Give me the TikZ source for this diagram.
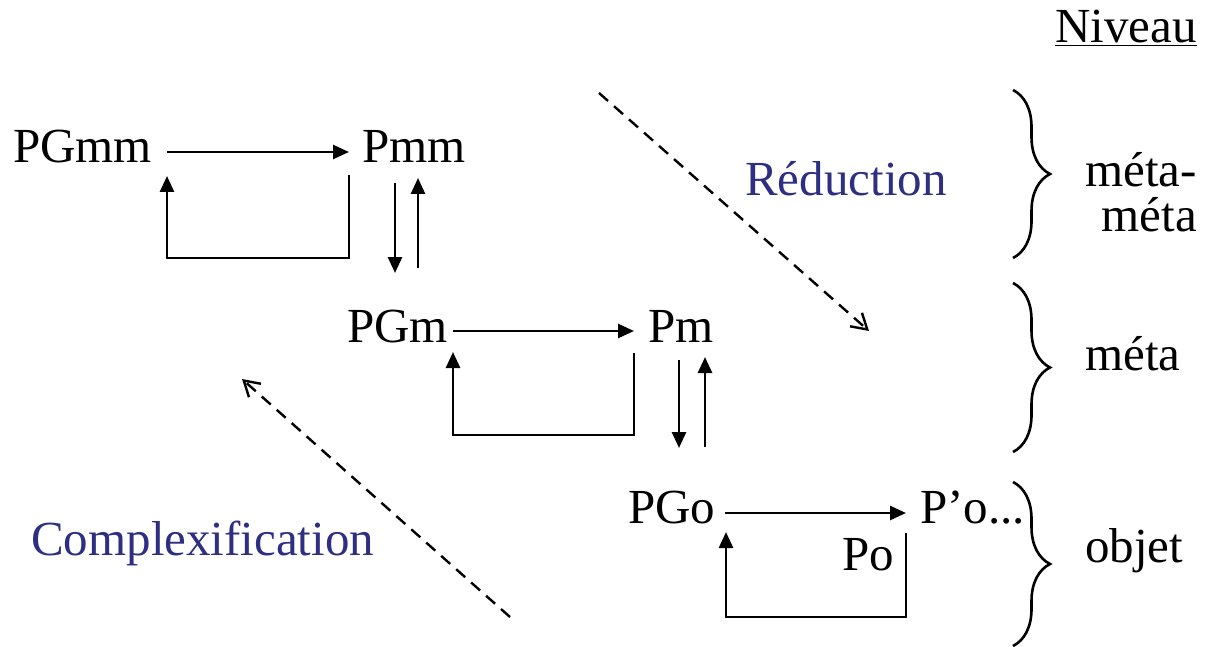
\documentclass[tikz,border=0pt]{standalone}
\usepackage{fontspec}
\setmainfont{Liberation Serif}
\usetikzlibrary{arrows.meta,decorations.pathreplacing}
\definecolor{darkblue}{RGB}{46,46,130}
\begin{document}
\begin{tikzpicture}[x=1pt,y=-1pt,
  lbl/.style={inner sep=0pt, anchor=base west, font=\fontsize{49}{45}\selectfont},
  blu/.style={lbl, text=darkblue},
  arr/.style={line width=2.6pt, -{Triangle[length=16pt,width=14pt]}},
  dasharr/.style={line width=2.4pt, dash pattern=on 12pt off 8pt, -{Straight Barb[length=15pt,width=18pt]}},
  brc/.style={line width=2.6pt, decorate, decoration={brace, amplitude=37pt}}]
\useasboundingbox (0,0) rectangle (1210,647);
\fill[white] (0,0) rectangle (1210,647);
% texts
\node[lbl] (PGmm) at (13,163) {PGmm};
\node[lbl] (Pmm) at (362,163) {Pmm};
\node[lbl] (PGm) at (347,342) {PGm};
\node[lbl] (Pm) at (648,342) {Pm};
\node[lbl] (PGo) at (628,523) {PGo};
\node[lbl] (Pop) at (920,523) {P’o...};
\node[lbl] (Po) at (842,570) {Po};
\node[blu] (red) at (745,196) {Réduction};
\node[blu] (cplx) at (31,555) {Complexification};
\node[lbl, anchor=base east] (niv) at (1197,43) {\underline{Niveau}};
\node[lbl, anchor=base east, align=right] (mm) at (1197,232) {méta-\\méta};
\node[lbl] (meta) at (1085,370) {méta};
\node[lbl] (obj) at (1085,562) {objet};
% level 1
\coordinate (h1s) at (167,152); \coordinate (h1e) at (349,152);
\coordinate (l1a) at (349,175); \coordinate (l1b) at (349,258);
\coordinate (l1c) at (167,258); \coordinate (l1d) at (167,176);
\draw[arr] (h1s) -- (h1e);
\draw[arr] (l1a) -- (l1b) -- (l1c) -- (l1d);
\coordinate (d1s) at (395,183); \coordinate (d1e) at (395,273);
\coordinate (u1s) at (418,268); \coordinate (u1e) at (418,178);
\draw[arr] (d1s) -- (d1e);
\draw[arr] (u1s) -- (u1e);
% level 2
\coordinate (h2s) at (453,331); \coordinate (h2e) at (634,331);
\coordinate (l2a) at (634,353); \coordinate (l2b) at (634,435);
\coordinate (l2c) at (453,435); \coordinate (l2d) at (453,352);
\draw[arr] (h2s) -- (h2e);
\draw[arr] (l2a) -- (l2b) -- (l2c) -- (l2d);
\coordinate (d2s) at (679,360); \coordinate (d2e) at (679,448);
\coordinate (u2s) at (705,447); \coordinate (u2e) at (705,357);
\draw[arr] (d2s) -- (d2e);
\draw[arr] (u2s) -- (u2e);
% level 3
\coordinate (h3s) at (725,513); \coordinate (h3e) at (906,513);
\coordinate (l3a) at (906,533); \coordinate (l3b) at (906,617);
\coordinate (l3c) at (726,617); \coordinate (l3d) at (726,532);
\draw[arr] (h3s) -- (h3e);
\draw[arr] (l3a) -- (l3b) -- (l3c) -- (l3d);
% dashed arrows
\coordinate (rs) at (599,93); \coordinate (re) at (869,331);
\coordinate (cs) at (510,617); \coordinate (ce) at (242,379);
\draw[dasharr] (rs) -- (re);
\draw[dasharr] (cs) -- (ce);
% braces
\coordinate (b1t) at (1013,90); \coordinate (b1b) at (1013,258);
\coordinate (b2t) at (1013,283); \coordinate (b2b) at (1013,452);
\coordinate (b3t) at (1013,482); \coordinate (b3b) at (1013,646);
\draw[brc] (b1t) -- (b1b);
\draw[brc] (b2t) -- (b2b);
\draw[brc] (b3t) -- (b3b);
\end{tikzpicture}
\end{document}
